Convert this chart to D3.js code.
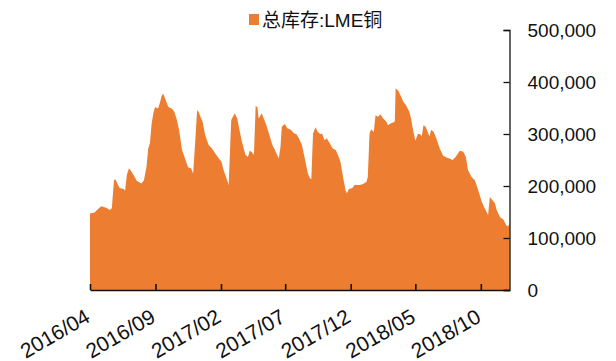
<!DOCTYPE html>
<html>
<head>
<meta charset="utf-8">
<script src="https://cdn.jsdelivr.net/npm/d3@7/dist/d3.min.js"></script>
<style>
  html, body { margin: 0; padding: 0; background: #fff; }
  svg { display: block; }
  text { font-family: "Liberation Sans", Arial, "Noto Sans CJK SC", sans-serif; fill: #111; }
</style>
</head>
<body>
<svg id="chart" width="616" height="361"></svg>
<script>
// LME copper total stocks (tonnes)
const seriesName = "总库存:LME铜";

const dates = [
  "2016-04-01","2016-04-12","2016-04-15","2016-04-27","2016-05-09","2016-05-17","2016-05-22","2016-05-27",
  "2016-05-30","2016-06-09","2016-06-19","2016-06-22","2016-06-26","2016-07-01","2016-07-06","2016-07-14",
  "2016-07-19","2016-07-30","2016-08-05","2016-08-11","2016-08-15","2016-08-19","2016-08-23","2016-08-27",
  "2016-08-31","2016-09-07","2016-09-11","2016-09-15","2016-09-19","2016-09-25","2016-10-01","2016-10-09",
  "2016-10-15","2016-10-21","2016-10-26","2016-11-02","2016-11-09","2016-11-16","2016-11-23","2016-11-28",
  "2016-12-02","2016-12-07","2016-12-09","2016-12-15","2016-12-20","2016-12-26","2017-01-03","2017-01-11",
  "2017-01-19","2017-01-27","2017-02-02","2017-02-07","2017-02-15","2017-02-19","2017-02-23","2017-02-25",
  "2017-03-05","2017-03-11","2017-03-16","2017-03-22","2017-03-30","2017-04-05","2017-04-09","2017-04-13",
  "2017-04-19","2017-04-23","2017-04-27","2017-04-30","2017-05-07","2017-05-12","2017-05-18","2017-05-24",
  "2017-06-01","2017-06-09","2017-06-16","2017-06-20","2017-06-23","2017-06-30","2017-07-06","2017-07-14",
  "2017-07-22","2017-07-27","2017-08-02","2017-08-09","2017-08-14","2017-08-18","2017-08-23","2017-08-28",
  "2017-08-31","2017-09-04","2017-09-10","2017-09-15","2017-09-21","2017-09-25","2017-10-01","2017-10-06",
  "2017-10-13","2017-10-20","2017-10-27","2017-11-01","2017-11-07","2017-11-13","2017-11-19","2017-11-22",
  "2017-11-27","2017-12-05","2017-12-10","2017-12-22","2017-12-30","2018-01-07","2018-01-10","2018-01-14",
  "2018-01-18","2018-01-24","2018-01-28","2018-02-03","2018-02-08","2018-02-15","2018-02-22","2018-02-26",
  "2018-03-04","2018-03-10","2018-03-14","2018-03-16","2018-03-22","2018-03-27","2018-04-03","2018-04-09",
  "2018-04-17","2018-04-21","2018-04-25","2018-05-01","2018-05-07","2018-05-12","2018-05-16","2018-05-20",
  "2018-05-25","2018-05-30","2018-06-03","2018-06-07","2018-06-13","2018-06-19","2018-06-27","2018-07-05",
  "2018-07-13","2018-07-20","2018-07-27","2018-08-03","2018-08-13","2018-08-21","2018-08-27","2018-09-01",
  "2018-09-09","2018-09-17","2018-09-25","2018-10-03","2018-10-10","2018-10-18","2018-10-22","2018-10-28",
  "2018-11-03","2018-11-07","2018-11-15","2018-11-23","2018-11-29","2018-12-04","2018-12-07"
];

const stocks = [
  147000,149000,152000,161000,158000,154000,157000,211000,
  213000,196000,194000,191000,221000,234000,229000,218000,
  210000,205000,211000,237000,272000,282000,320000,340000,
  352000,349000,359000,372000,378000,365000,352000,349000,
  343000,327000,308000,269000,253000,236000,234000,224000,
  275000,343000,346000,333000,324000,298000,279000,272000,
  262000,253000,247000,231000,212000,202000,288000,327000,
  340000,330000,308000,285000,260000,256000,268000,266000,
  260000,354000,352000,330000,340000,330000,317000,301000,
  279000,266000,253000,275000,314000,319000,311000,308000,
  301000,300000,292000,279000,260000,244000,224000,215000,
  213000,301000,313000,304000,300000,301000,288000,292000,
  282000,272000,269000,260000,247000,218000,192000,186000,
  194000,196000,202000,202000,204000,208000,218000,301000,
  309000,304000,336000,333000,338000,330000,324000,317000,
  320000,322000,324000,388000,383000,375000,362000,356000,
  343000,330000,311000,287000,300000,300000,295000,317000,
  314000,304000,295000,308000,304000,292000,272000,258000,
  255000,253000,250000,256000,268000,266000,256000,231000,
  218000,211000,192000,170000,157000,144000,179000,173000,
  167000,154000,140000,135000,125000,122000,129000
];

const xTickDates = ["2016-04-01","2016-09-01","2017-02-01","2017-07-01","2017-12-01","2018-05-01","2018-10-01"];
const yTickValues = [0, 100000, 200000, 300000, 400000, 500000];

const parse = d3.timeParse("%Y-%m-%d");
const fmtX = d3.timeFormat("%Y/%m");
const fmtY = d3.format(",");

const data = dates.map((d, i) => ({ date: parse(d), value: stocks[i] }));

const svg = d3.select("#chart");
const plot = { left: 90, right: 509.5, top: 30, bottom: 290 };

const x = d3.scaleTime()
  .domain([parse("2016-04-01"), parse("2018-12-07")])
  .range([plot.left, plot.right]);
const y = d3.scaleLinear().domain([0, 500000]).range([plot.bottom, plot.top]);

const color = "#ED7D31";

// filled area
const area = d3.area()
  .x(d => x(d.date))
  .y0(y(0))
  .y1(d => y(d.value));

svg.append("path")
  .datum(data)
  .attr("d", area)
  .attr("fill", color);

// right value axis, ticks pointing inward
const yAxis = svg.append("g")
  .attr("transform", `translate(${plot.right},0)`)
  .call(d3.axisRight(y).tickValues(yTickValues).tickSize(-6).tickPadding(18).tickFormat(fmtY));
yAxis.select(".domain").attr("stroke", "#111").attr("stroke-width", 1.3);
yAxis.selectAll(".tick line").attr("stroke", "#111").attr("stroke-width", 1.3);
yAxis.selectAll(".tick text")
  .attr("font-size", 19)
  .attr("fill", "#111")
  .style("font-family", '"Liberation Sans", Arial, sans-serif');

// bottom date axis, ticks pointing inward, rotated labels
const xAxis = svg.append("g")
  .attr("transform", `translate(0,${plot.bottom})`)
  .call(d3.axisBottom(x).tickValues(xTickDates.map(parse)).tickSize(-6).tickSizeOuter(0).tickFormat(fmtX));
xAxis.select(".domain").attr("stroke", "#111").attr("stroke-width", 1.6);
xAxis.selectAll(".tick line").attr("stroke", "#111").attr("stroke-width", 1.6);
xAxis.selectAll(".tick text")
  .attr("font-size", 21)
  .attr("fill", "#111")
  .attr("text-anchor", "end")
  .attr("x", 0).attr("y", 0).attr("dy", 0)
  .attr("transform", "translate(1,31) rotate(-30)")
  .style("font-family", '"Liberation Sans", Arial, sans-serif');

// legend
const legend = svg.append("g");
legend.append("rect")
  .attr("x", 249).attr("y", 14).attr("width", 10).attr("height", 11)
  .attr("fill", color);
legend.append("text")
  .attr("x", 262).attr("y", 27)
  .attr("font-size", 19)
  .text(seriesName);
</script>
</body>
</html>
